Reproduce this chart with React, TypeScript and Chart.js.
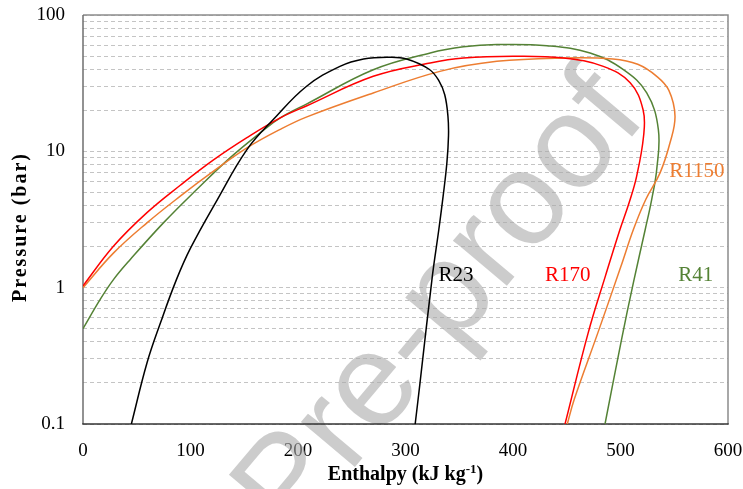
import React, { useEffect, useRef } from "react";
import { Chart, registerables } from "chart.js";

Chart.register(...registerables);

// ---- data (enthalpy kJ/kg, pressure bar) ----
const r23H = [45, 59.5, 72, 87, 100, 125, 152.5, 177, 208, 239, 261, 285, 301, 322, 331, 336.5, 339.5, 340, 338.5, 335, 331, 325, 313.5, 309];
const r23P = [0.1, 0.28, 0.55, 1.15, 1.95, 4.43, 10.3, 17.1, 30, 42, 47.6, 49, 47.6, 40, 33, 26, 18, 13, 8.24, 4.69, 2.67, 1.22, 0.2, 0.1];

const r170H = [0, 28.5, 59.5, 90.5, 121.4, 152.5, 183.5, 208.3, 270, 323, 354, 400, 447, 484, 509, 521, 521.5, 515, 508, 499.5, 486, 470, 448.4];
const r170P = [1.03, 2.02, 3.55, 5.64, 8.65, 12.6, 17.6, 21.6, 35.5, 44.5, 48.4, 49.9, 48.4, 42, 31.8, 20.2, 13, 6.56, 4.2, 2.67, 1.22, 0.468, 0.1];

const r1150H = [0, 28.5, 59.5, 90.5, 121.4, 152.5, 183.5, 208.3, 270, 332, 385, 447, 493, 516, 533.7, 545, 550.7, 546, 536.8, 523.5, 512, 500.5, 479, 457, 450.5];
const r1150P = [1.0, 1.8, 2.99, 4.69, 7.15, 10.6, 14.5, 17.9, 26.8, 38.6, 45.7, 48.4, 47.6, 43.5, 35.5, 28, 18.1, 11.5, 6.95, 4.43, 2.67, 1.44, 0.468, 0.152, 0.1];

const r41H = [0, 16, 28.5, 44, 75, 106, 137, 168, 183.5, 208.3, 270, 323, 354, 385, 431.6, 471.7, 502.7, 524.4, 535.2, 533.7, 529, 523, 512, 501, 485.6];
const r41P = [0.5, 0.82, 1.15, 1.61, 3.0, 5.27, 9.0, 14.3, 17.6, 22.3, 39.7, 52.7, 58.4, 60.7, 59.6, 52.7, 39.7, 26.8, 14.5, 7.37, 4.43, 2.67, 1.09, 0.418, 0.1];

const seriesNames = ["R23", "R170", "R1150", "R41"];
const seriesH = [r23H, r170H, r1150H, r41H];
const seriesP = [r23P, r170P, r1150P, r41P];
const seriesColors = ["#000000", "#FF0000", "#ED7D31", "#548235"];

// label anchor positions (enthalpy, pressure) for the curve names
const labelH = [347, 451, 571, 570];
const labelP = [1.23, 1.23, 7.1, 1.23];

const xTickValues = [0, 100, 200, 300, 400, 500, 600];
const yLabelValues = [0.1, 1, 10, 100];
const yGridValues = [
  0.1, 0.2, 0.3, 0.4, 0.5, 0.6, 0.7, 0.8, 0.9,
  1, 2, 3, 4, 5, 6, 7, 8, 9,
  10, 20, 30, 40, 50, 60, 70, 80, 90, 100,
];

const xTitle = "Enthalpy (kJ kg";
const xTitleSup = "-1";
const xTitleEnd = ")";
const yTitle = "Pressure (bar)";
const watermark = "Pre-proof";

const SERIF = "'Liberation Serif', 'Times New Roman', serif";

const decorPlugin = {
  id: "decor",
  beforeDatasetsDraw(chart: any) {
    const { ctx, chartArea } = chart;
    // watermark
    ctx.save();
    ctx.translate(442, 306);
    ctx.rotate((-50 * Math.PI) / 180);
    ctx.font = "133px 'Liberation Sans', Arial, sans-serif";
    ctx.fillStyle = "rgba(170,170,170,0.6)";
    ctx.textAlign = "center";
    ctx.textBaseline = "middle";
    ctx.fillText(watermark, 0, 0);
    ctx.restore();
    // frame
    const { left, right, top, bottom } = chartArea;
    ctx.save();
    ctx.lineWidth = 1.5;
    ctx.strokeStyle = "#8c8c8c";
    ctx.beginPath();
    ctx.moveTo(left, top);
    ctx.lineTo(right, top);
    ctx.lineTo(right, bottom);
    ctx.stroke();
    ctx.strokeStyle = "#6e6e6e";
    ctx.beginPath();
    ctx.moveTo(left, top);
    ctx.lineTo(left, bottom);
    ctx.stroke();
    ctx.strokeStyle = "#333333";
    ctx.beginPath();
    ctx.moveTo(left - 0.75, bottom);
    ctx.lineTo(right + 0.75, bottom);
    ctx.stroke();
    ctx.restore();
  },
  afterDatasetsDraw(chart: any) {
    const { ctx, scales } = chart;
    ctx.save();
    ctx.font = `21px ${SERIF}`;
    ctx.textAlign = "center";
    ctx.textBaseline = "middle";
    seriesNames.forEach((name, i) => {
      ctx.fillStyle = seriesColors[i];
      ctx.fillText(name, scales.x.getPixelForValue(labelH[i]), scales.y.getPixelForValue(labelP[i]));
    });
    ctx.restore();
  },
  afterDraw(chart: any) {
    const { ctx, chartArea } = chart;
    ctx.save();
    ctx.fillStyle = "#000";
    // x title with superscript
    const big = `bold 20px ${SERIF}`;
    const small = `bold 13px ${SERIF}`;
    ctx.font = big;
    const w1 = ctx.measureText(xTitle).width;
    const w3 = ctx.measureText(xTitleEnd).width;
    ctx.font = small;
    const w2 = ctx.measureText(xTitleSup).width;
    const total = w1 + w2 + w3;
    let x = (chartArea.left + chartArea.right) / 2 - total / 2;
    const base = 480;
    ctx.textBaseline = "alphabetic";
    ctx.textAlign = "left";
    ctx.font = big;
    ctx.fillText(xTitle, x, base);
    x += w1;
    ctx.font = small;
    ctx.fillText(xTitleSup, x, base - 7);
    x += w2;
    ctx.font = big;
    ctx.fillText(xTitleEnd, x, base);
    // y title
    ctx.translate(26, 227);
    ctx.rotate(-Math.PI / 2);
    ctx.font = big;
    (ctx as any).letterSpacing = "2px";
    ctx.textAlign = "center";
    ctx.fillText(yTitle, 0, 0);
    ctx.restore();
  },
};

export default function App() {
  const ref = useRef<HTMLCanvasElement | null>(null);
  useEffect(() => {
    if (!ref.current) return;
    const datasets = seriesNames.map((name, i) => ({
      label: name,
      data: seriesH[i].map((h, j) => ({ x: h, y: seriesP[i][j] })),
      borderColor: seriesColors[i],
      backgroundColor: seriesColors[i],
      borderWidth: 1.5,
      showLine: true,
      pointRadius: 0,
      tension: 0.4,
      fill: false,
    }));
    const chart = new Chart(ref.current, {
      type: "scatter",
      data: { datasets },
      plugins: [decorPlugin],
      options: {
        animation: false,
        responsive: false,
        maintainAspectRatio: false,
        layout: { padding: { top: 15, right: 15, left: 0, bottom: 0 } },
        plugins: { legend: { display: false }, tooltip: { enabled: false } },
        scales: {
          x: {
            type: "linear",
            min: 0,
            max: 600,
            afterBuildTicks: (s: any) => {
              s.ticks = xTickValues.map((v) => ({ value: v }));
            },
            ticks: {
              font: { family: SERIF, size: 19 },
              color: "#000",
              padding: 0,
              maxRotation: 0,
              autoSkip: false,
            },
            grid: {
              display: true,
              drawOnChartArea: false,
              drawTicks: true,
              tickLength: 16,
              tickColor: "rgba(0,0,0,0)",
              color: "rgba(0,0,0,0)",
            },
            border: { display: false },
            afterFit: (s: any) => {
              s.height = 65;
            },
          },
          y: {
            type: "logarithmic",
            min: 0.1,
            max: 100,
            afterBuildTicks: (s: any) => {
              s.ticks = yGridValues.map((v) => ({ value: v }));
            },
            ticks: {
              font: { family: SERIF, size: 19 },
              color: "#000",
              padding: 0,
              autoSkip: false,
              callback: (v: any) => (yLabelValues.includes(Number(v)) ? String(v) : ""),
            },
            grid: {
              color: "#c4c4c4",
              lineWidth: 1,
              drawTicks: true,
              tickLength: 18,
              tickColor: "rgba(0,0,0,0)",
            },
            border: { display: false, dash: [4, 3] },
            afterFit: (s: any) => {
              s.width = 83;
            },
          },
        },
      },
    });
    return () => chart.destroy();
  }, []);
  return (
    <div style={{ position: "absolute", left: 0, top: 0, width: 743, height: 489, background: "#fff" }}>
      <canvas ref={ref} width={743} height={489} style={{ width: 743, height: 489, display: "block" }} />
    </div>
  );
}
